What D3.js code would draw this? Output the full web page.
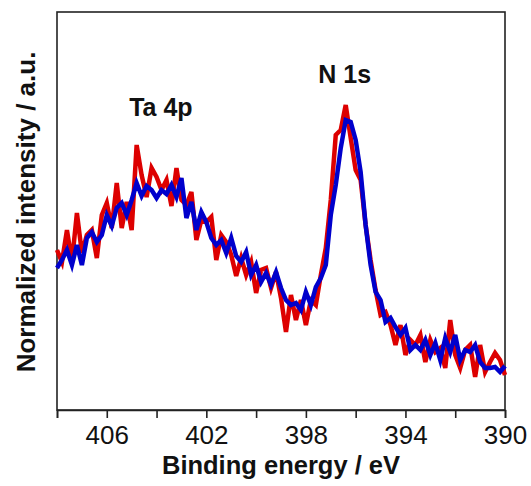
<!DOCTYPE html>
<html>
<head>
<meta charset="utf-8">
<script src="https://cdn.jsdelivr.net/npm/d3@7"></script>
<style>
  body { margin: 0; background: #fff; }
  text { font-family: "Liberation Sans", Arial, sans-serif; }
</style>
</head>
<body>
<div id="chart"></div>
<script>
// XPS spectrum: Ta 4p / N 1s region, two samples

const width = 531, height = 486;
const margin = { top: 12, right: 26, bottom: 75, left: 57 };

// binding energy grid, 408 -> 390 eV in 0.2 eV steps
const energyStart = 408, energyStep = 0.2;

const redSeries = [
  160,148,180,148,197,157,175,180,152,195,
  207,182,227,182,208,180,265,235,213,242,
  233,220,230,204,242,210,205,218,170,190,
  188,193,150,175,168,155,134,152,135,148,
  117,140,142,122,138,112,78,115,90,110,
  85,110,105,135,162,210,275,280,305,272,
  240,230,185,150,120,95,98,85,65,85,
  55,70,65,75,48,70,58,62,42,90,
  55,42,60,65,33,65,38,48,57,50,
  35
];

const blueSeries = [
  142,150,160,145,165,145,172,178,168,175,
  195,184,202,207,195,210,227,214,224,220,
  212,220,216,225,213,232,192,208,180,198,
  188,172,165,170,157,172,154,148,158,135,
  145,128,137,125,138,122,110,105,107,100,
  118,105,123,132,145,195,225,262,290,288,
  270,238,185,145,118,110,88,92,83,75,
  82,60,65,60,70,55,67,50,72,58,
  75,50,60,58,65,48,42,42,43,38,
  44
];

const majorTicks = [406, 402, 398, 394, 390];
const allTicks = [408, 406, 404, 402, 400, 398, 396, 394, 392, 390];

const peakLabels = [
  { text: "Ta 4p", energy: 405.1, value: 294 },
  { text: "N 1s", energy: 397.5, value: 327 }
];

const energies = redSeries.map((_, i) => +(energyStart - i * energyStep).toFixed(1));

const svg = d3.select("#chart")
    .append("svg")
    .attr("width", width)
    .attr("height", height);

const x = d3.scaleLinear()
    .domain([408, 390])
    .range([margin.left, width - margin.right]);

const y = d3.scaleLinear()
    .domain([0, 398])
    .range([height - margin.bottom - 1, margin.top]);

// frame
svg.append("rect")
    .attr("x", margin.left)
    .attr("y", margin.top)
    .attr("width", x(390) - x(408))
    .attr("height", y(0) - margin.top)
    .attr("fill", "none")
    .attr("stroke", "#222")
    .attr("stroke-width", 1.6);

// x axis
const xAxis = d3.axisBottom(x)
    .tickValues(allTicks)
    .tickSize(8)
    .tickFormat(d => majorTicks.includes(d) ? d : "");

const gx = svg.append("g")
    .attr("transform", `translate(0,${y(0)})`)
    .call(xAxis);

gx.select(".domain").attr("stroke", "#222").attr("stroke-width", 1.6);
gx.selectAll(".tick line").attr("stroke", "#222").attr("stroke-width", 1.6);
gx.selectAll(".tick text")
    .attr("dy", 0)
    .attr("y", 34)
    .attr("fill", "#111")
    .style("font-size", "26px");

// axis titles
svg.append("text")
    .attr("x", (x(408) + x(390)) / 2)
    .attr("y", 474)
    .attr("text-anchor", "middle")
    .style("font-size", "25.5px")
    .style("font-weight", "bold")
    .attr("fill", "#111")
    .text("Binding energy / eV");

svg.append("text")
    .attr("transform", "translate(35,212) rotate(-90)")
    .attr("text-anchor", "middle")
    .style("font-size", "26px")
    .style("font-weight", "bold")
    .attr("fill", "#111")
    .text("Normalized intensity / a.u.");

// spectra
const line = d3.line()
    .x((d, i) => x(energies[i]))
    .y(d => y(d));

svg.append("path")
    .datum(redSeries)
    .attr("d", line)
    .attr("fill", "none")
    .attr("stroke", "#dd0000")
    .attr("stroke-width", 4.5);

svg.append("path")
    .datum(blueSeries)
    .attr("d", line)
    .attr("fill", "none")
    .attr("stroke", "#0000cc")
    .attr("stroke-width", 4.5);

// peak labels
svg.selectAll(".peak")
    .data(peakLabels)
    .enter()
    .append("text")
    .attr("class", "peak")
    .attr("x", d => x(d.energy))
    .attr("y", d => y(d.value))
    .style("font-size", "25px")
    .style("font-weight", "bold")
    .attr("fill", "#111")
    .text(d => d.text);
</script>
</body>
</html>
